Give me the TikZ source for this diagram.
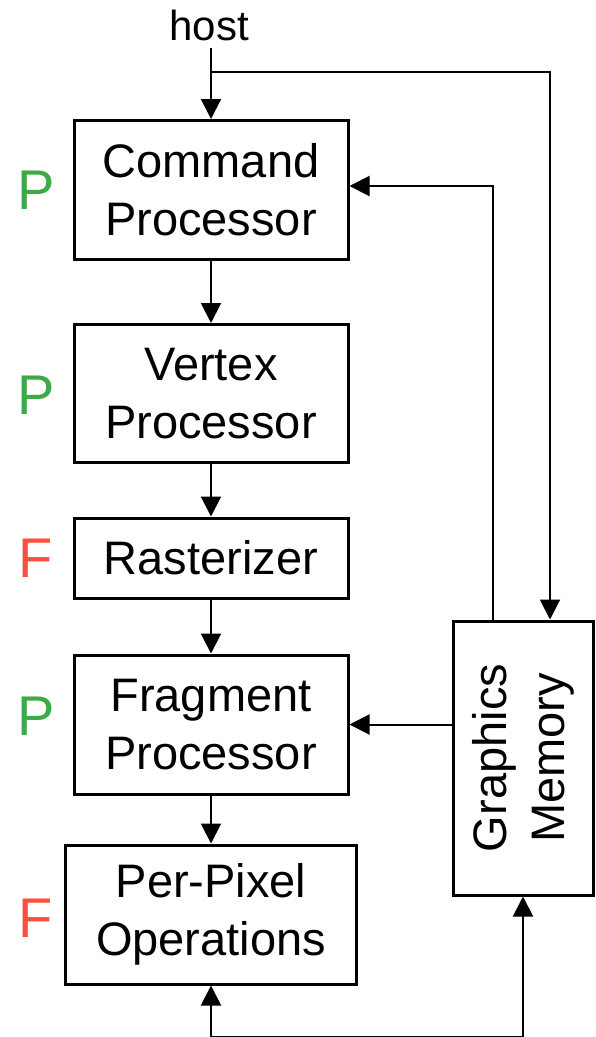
\documentclass[tikz,border=0pt]{standalone}
\usepackage{fontspec}
\setmainfont{Liberation Sans}
\usetikzlibrary{arrows.meta}
\definecolor{pgreen}{RGB}{60,170,70}
\definecolor{fred}{RGB}{250,80,64}
\begin{document}
\begin{tikzpicture}[x=1pt,y=-1pt,
  stage/.style={draw,line width=3pt,inner sep=0pt,align=center,
    font=\fontsize{47}{58}\selectfont},
  tag/.style={font=\fontsize{56}{60}\selectfont},
  conn/.style={line width=2pt,-{Triangle[width=20pt,length=20pt]}},
  both/.style={line width=2pt,{Triangle[width=20pt,length=20pt]}-{Triangle[width=20pt,length=20pt]}}]
\useasboundingbox (0,0) rectangle (596,1037);

% pipeline stages
\node[stage,minimum width=274pt,minimum height=139pt] (cmd) at (211,190) {Command\\Processor};
\node[stage,minimum width=274pt,minimum height=138pt] (vtx) at (211,393.5) {Vertex\\Processor};
\node[stage,minimum width=274pt,minimum height=80pt] (ras) at (211,558) {Rasterizer};
\node[stage,minimum width=274pt,minimum height=139pt] (frg) at (211,724.5) {Fragment\\Processor};
\node[stage,minimum width=291pt,minimum height=139pt] (ppo) at (211,914.5) {Per-Pixel\\Operations};
\node[stage,minimum width=274pt,minimum height=140pt,rotate=90] (gm) at (523,758) {Graphics\\Memory};

% programmable / fixed labels
\node[tag,text=pgreen] (t1) at (36,190) {P};
\node[tag,text=pgreen] (t2) at (36,395) {P};
\node[tag,text=fred] (t3) at (36,558) {F};
\node[tag,text=pgreen] (t4) at (36,716) {P};
\node[tag,text=fred] (t5) at (36,918) {F};

% host input
\node[font=\fontsize{42}{48}\selectfont,anchor=base] (host) at (209,40) {host};
\coordinate (hostend) at (211,48);
\coordinate (split) at (211,72);

% connectors
\draw[conn] (hostend) -- (cmd.north);
\draw[conn] (split) -| ([xshift=27pt]gm.east);
\draw[conn] ([xshift=-30pt]gm.east) |- ([yshift=4pt]cmd.east);
\draw[conn] (cmd.south) -- (vtx.north);
\draw[conn] (vtx.south) -- (ras.north);
\draw[conn] (ras.south) -- (frg.north);
\draw[conn] (frg.south) -- (ppo.north);
\draw[conn] (gm.north |- frg.east) -- (frg.east);
\draw[both] (ppo.south) -- ++(0,51) -| (gm.west);
\end{tikzpicture}
\end{document}
